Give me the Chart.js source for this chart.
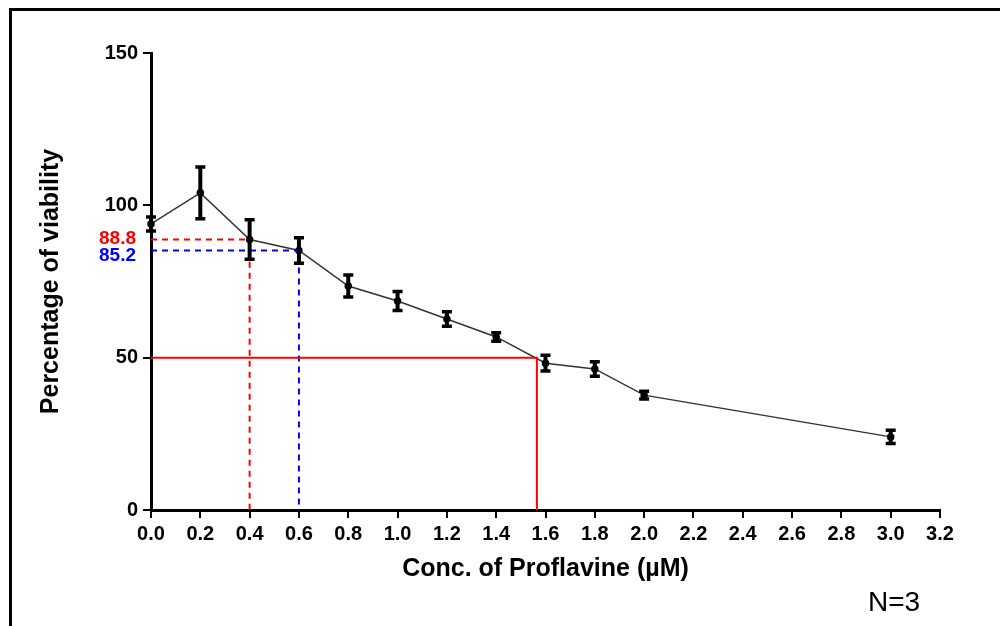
<!DOCTYPE html>
<html>
<head>
<meta charset="utf-8">
<script src="https://cdn.jsdelivr.net/npm/chart.js@4"></script>
<style>
  body { margin: 0; background: #fff; }
  #wrap { position: relative; width: 1000px; height: 626px; overflow: hidden; }
  #frame { position: absolute; left: 9px; top: 8px; width: 1100px; height: 700px;
           border-top: 3px solid #000; border-left: 3px solid #000; }
  #chart { position: absolute; left: 0; top: 0; }
</style>
</head>
<body>
<div id="wrap">
  <div id="frame"></div>
  <canvas id="chart" width="1000" height="626"></canvas>
</div>
<script>
// concentration of proflavine (µM) and mean viability (%) with SD
const conc = [0, 0.2, 0.4, 0.6, 0.8, 1.0, 1.2, 1.4, 1.6, 1.8, 2.0, 3.0];
const viability = [93.9, 104.1, 88.8, 85.2, 73.5, 68.6, 62.7, 56.8, 48.2, 46.3, 37.7, 24.0];
const sd = [2.3, 8.5, 6.5, 4.2, 3.6, 3.1, 2.4, 1.4, 2.6, 2.4, 1.3, 2.2];

const xTicks = [0, 0.2, 0.4, 0.6, 0.8, 1.0, 1.2, 1.4, 1.6, 1.8, 2.0, 2.2, 2.4, 2.6, 2.8, 3.0, 3.2];
const yTicks = [0, 50, 100, 150];

// reference lines: IC50 and the two marked viabilities
const ic50 = 1.565;
const marked = [
  { conc: 0.4, value: 88.8, color: '#ff0000', shift: -1 },
  { conc: 0.6, value: 85.2, color: '#0000ff', shift: 5 }
];

const FONT = 'Arial, "Liberation Sans", sans-serif';

const errorBars = {
  id: 'errorBars',
  afterDatasetsDraw(chart) {
    const { ctx, scales: { x, y } } = chart;
    ctx.save();
    ctx.strokeStyle = '#000';
    conc.forEach((c, i) => {
      const px = x.getPixelForValue(c);
      const top = y.getPixelForValue(viability[i] + sd[i]);
      const bot = y.getPixelForValue(viability[i] - sd[i]);
      ctx.lineWidth = 4;
      ctx.beginPath();
      ctx.moveTo(px, top);
      ctx.lineTo(px, bot);
      ctx.stroke();
      ctx.lineWidth = 3.5;
      ctx.beginPath();
      ctx.moveTo(px - 5, top);
      ctx.lineTo(px + 5, top);
      ctx.moveTo(px - 5, bot);
      ctx.lineTo(px + 5, bot);
      ctx.stroke();
    });
    ctx.restore();
  }
};

const labels = {
  id: 'labels',
  afterDraw(chart) {
    const { ctx, scales: { x, y } } = chart;
    ctx.save();
    ctx.font = 'bold 19px ' + FONT;
    ctx.textAlign = 'right';
    ctx.textBaseline = 'middle';
    marked.forEach(m => {
      ctx.fillStyle = m.color;
      ctx.fillText(m.value.toFixed(1), x.left - 15, y.getPixelForValue(m.value) + m.shift);
    });
    ctx.fillStyle = '#000';
    ctx.font = '28px ' + FONT;
    ctx.textAlign = 'center';
    ctx.fillText('N=3', 894, 603);
    ctx.restore();
  }
};

const refSets = [
  {
    data: [{ x: 0, y: 50 }, { x: ic50, y: 50 }, { x: ic50, y: 0 }],
    borderColor: '#ff0000', borderWidth: 2, pointRadius: 0
  }
].concat(marked.map(m => ({
  data: [{ x: 0, y: m.value }, { x: m.conc, y: m.value }, { x: m.conc, y: 0 }],
  borderColor: m.color, borderWidth: 2, borderDash: [6, 5], pointRadius: 0
})));

new Chart(document.getElementById('chart'), {
  type: 'line',
  data: {
    datasets: refSets.concat([{
      data: conc.map((c, i) => ({ x: c, y: viability[i] })),
      borderColor: '#333',
      borderWidth: 1.5,
      pointRadius: 3,
      pointBackgroundColor: '#000',
      pointBorderColor: '#000'
    }])
  },
  plugins: [errorBars, labels],
  options: {
    responsive: false,
    animation: false,
    clip: false,
    layout: { padding: { left: 0, right: 60, top: 53, bottom: 0 } },
    plugins: { legend: { display: false }, tooltip: { enabled: false } },
    scales: {
      x: {
        type: 'linear',
        min: 0,
        max: 3.2,
        afterBuildTicks: s => { s.ticks = xTicks.map(v => ({ value: v })); },
        afterFit: s => { s.height = 116; },
        grid: { drawOnChartArea: false, drawTicks: true, tickLength: 8, color: '#000', lineWidth: 2 },
        border: { display: true, color: '#000', width: 3 },
        ticks: {
          color: '#000',
          padding: 4,
          maxRotation: 0,
          autoSkip: false,
          font: { family: FONT, size: 20, weight: 'bold' },
          callback: v => v.toFixed(1)
        },
        title: {
          display: true,
          text: 'Conc. of Proflavine (µM)',
          color: '#000',
          font: { family: FONT, size: 25, weight: 'bold' },
          padding: { top: 0, bottom: 42 }
        }
      },
      y: {
        min: 0,
        max: 150,
        afterBuildTicks: s => { s.ticks = yTicks.map(v => ({ value: v })); },
        afterFit: s => { s.width = 151; },
        grid: { drawOnChartArea: false, drawTicks: true, tickLength: 8, color: '#000', lineWidth: 2 },
        border: { display: true, color: '#000', width: 3 },
        ticks: {
          color: '#000',
          padding: 5,
          font: { family: FONT, size: 20, weight: 'bold' }
        },
        title: {
          display: true,
          text: 'Percentage of viability',
          color: '#000',
          font: { family: FONT, size: 25, weight: 'bold' },
          padding: { top: 36, bottom: 0 }
        }
      }
    }
  }
});
</script>
</body>
</html>
